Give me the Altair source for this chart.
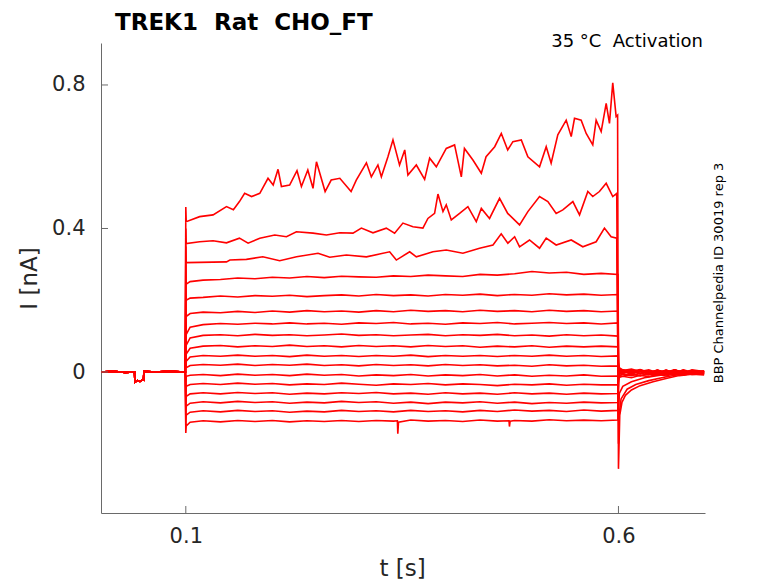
import altair as alt
import pandas as pd

# ---------------- data ----------------
X_TICKS = [0.1, 0.6]
Y_TICKS = [0.0, 0.4, 0.8]

# holding-level baseline before the step (shared by all sweeps)
PRE = [(0.002, 0.0), (0.015, 0.002), (0.03, -0.001), (0.0408, 0.0), (0.0412, -0.028),
       (0.044, -0.024), (0.047, -0.026), (0.0505, -0.021), (0.0512, -0.022),
       (0.0516, 0.002), (0.065, 0.0), (0.08, 0.002), (0.0995, 0.0)]

# capacitive spike at step onset (t = 0.1 s), one per sweep, top to bottom
ONSET_SPIKE = [0.46, 0.40, 0.35, 0.30, 0.25, 0.21, 0.17, 0.14, 0.11, 0.08, 0.05,
               -0.04, -0.07, -0.10, -0.12, -0.15, -0.17]

T1_STEP = [(0.1005, 0.419), (0.116, 0.433), (0.1315, 0.438), (0.147, 0.461), (0.155, 0.452),
           (0.162, 0.475), (0.168, 0.498), (0.176, 0.489), (0.1855, 0.498), (0.195, 0.540),
           (0.201, 0.521), (0.2066, 0.565), (0.2105, 0.517), (0.220, 0.521), (0.2285, 0.561),
           (0.2336, 0.517), (0.241, 0.563), (0.247, 0.512), (0.251, 0.586), (0.261, 0.503),
           (0.268, 0.535), (0.278, 0.540), (0.291, 0.503), (0.297, 0.535), (0.3087, 0.583),
           (0.3144, 0.544), (0.322, 0.577), (0.326, 0.544), (0.3336, 0.600), (0.3394, 0.647),
           (0.347, 0.577), (0.353, 0.619), (0.3567, 0.549), (0.3664, 0.577), (0.376, 0.537),
           (0.3818, 0.596), (0.3895, 0.572), (0.401, 0.623), (0.4106, 0.633), (0.4184, 0.544),
           (0.422, 0.623), (0.4318, 0.591), (0.4415, 0.554), (0.447, 0.600), (0.457, 0.628),
           (0.4646, 0.665), (0.472, 0.619), (0.478, 0.642), (0.4877, 0.647), (0.4953, 0.600),
           (0.5088, 0.572), (0.5165, 0.628), (0.5222, 0.582), (0.5299, 0.661), (0.5396, 0.702),
           (0.5454, 0.656), (0.5492, 0.707), (0.5569, 0.702), (0.5627, 0.665), (0.5703, 0.633),
           (0.5742, 0.702), (0.58, 0.670), (0.5858, 0.749), (0.5896, 0.693), (0.5934, 0.806),
           (0.5973, 0.712), (0.599, 0.716)]
T1_TAIL = [(0.6, -0.27), (0.6008, -0.19), (0.6015, -0.12), (0.604, -0.085), (0.608, -0.065),
           (0.615, -0.05), (0.625, -0.038), (0.64, -0.027), (0.655, -0.018), (0.67, -0.01),
           (0.685, -0.006), (0.699, -0.008)]

T2_STEP = [(0.1005, 0.358), (0.116, 0.363), (0.1315, 0.366), (0.147, 0.360), (0.162, 0.373),
           (0.172, 0.359), (0.1855, 0.373), (0.2028, 0.382), (0.2163, 0.377), (0.2278, 0.391),
           (0.247, 0.387), (0.2625, 0.382), (0.278, 0.388), (0.2932, 0.387), (0.3029, 0.401),
           (0.3163, 0.388), (0.3317, 0.401), (0.3413, 0.387), (0.3509, 0.415), (0.3625, 0.405),
           (0.374, 0.401), (0.3798, 0.428), (0.3875, 0.442), (0.3914, 0.496), (0.3972, 0.447),
           (0.401, 0.466), (0.4068, 0.424), (0.4164, 0.442), (0.426, 0.461), (0.4357, 0.419),
           (0.4415, 0.456), (0.451, 0.428), (0.4626, 0.484), (0.472, 0.442), (0.4857, 0.410),
           (0.4953, 0.447), (0.5088, 0.489), (0.5184, 0.475), (0.528, 0.442), (0.5357, 0.452),
           (0.5473, 0.475), (0.555, 0.438), (0.5646, 0.503), (0.5703, 0.489), (0.578, 0.503),
           (0.5858, 0.526), (0.5934, 0.489), (0.598, 0.498)]
T2_TAIL = [(0.6, -0.2), (0.6008, -0.12), (0.603, -0.075), (0.61, -0.048), (0.62, -0.035),
           (0.635, -0.024), (0.65, -0.016), (0.665, -0.009), (0.68, -0.004), (0.699, -0.003)]

T3_STEP = [(0.1005, 0.305), (0.147, 0.307), (0.151, 0.312), (0.170, 0.314), (0.189, 0.321),
           (0.2085, 0.310), (0.228, 0.321), (0.2528, 0.331), (0.2663, 0.320), (0.2856, 0.326),
           (0.3087, 0.321), (0.3356, 0.335), (0.3433, 0.312), (0.3587, 0.335), (0.3664, 0.321),
           (0.3856, 0.335), (0.401, 0.340), (0.4202, 0.331), (0.4395, 0.345), (0.455, 0.354),
           (0.4645, 0.385), (0.4722, 0.359), (0.48, 0.377), (0.4857, 0.349), (0.4972, 0.368),
           (0.5088, 0.345), (0.5165, 0.373), (0.528, 0.354), (0.5454, 0.368), (0.5588, 0.349),
           (0.5742, 0.363), (0.5838, 0.401), (0.5915, 0.377), (0.598, 0.373)]
T3_TAIL = [(0.6, -0.13), (0.601, -0.06), (0.605, -0.04), (0.615, -0.027), (0.63, -0.016),
           (0.65, -0.008), (0.67, -0.003), (0.699, -0.002)]

# sweeps 4..17 sampled on a common time grid
STEP_T = [0.1005, 0.105, 0.12, 0.14, 0.16, 0.18, 0.2, 0.22, 0.24, 0.26, 0.28, 0.3, 0.32, 0.34,
          0.36, 0.38, 0.4, 0.42, 0.44, 0.46, 0.48, 0.5, 0.52, 0.54, 0.56, 0.58, 0.5995]
LOWER_STEP = {
    4: [0.245, 0.252, 0.256, 0.258, 0.262, 0.26, 0.264, 0.262, 0.266, 0.263, 0.267, 0.265, 0.264,
        0.268, 0.266, 0.27, 0.268, 0.266, 0.272, 0.27, 0.274, 0.28, 0.276, 0.278, 0.272, 0.275, 0.272],
    5: [0.2, 0.206, 0.208, 0.212, 0.209, 0.213, 0.211, 0.214, 0.21, 0.213, 0.215, 0.212, 0.216,
        0.213, 0.215, 0.212, 0.216, 0.214, 0.217, 0.213, 0.216, 0.214, 0.218, 0.215, 0.217, 0.214, 0.216],
    6: [0.155, 0.163, 0.167, 0.165, 0.169, 0.166, 0.17, 0.167, 0.171, 0.168, 0.17, 0.167, 0.171,
        0.168, 0.172, 0.169, 0.171, 0.168, 0.172, 0.169, 0.171, 0.168, 0.172, 0.169, 0.171, 0.168, 0.17],
    7: [0.105, 0.125, 0.132, 0.135, 0.133, 0.136, 0.134, 0.137, 0.134, 0.136, 0.133, 0.137, 0.135,
        0.138, 0.134, 0.136, 0.133, 0.137, 0.135, 0.138, 0.134, 0.136, 0.138, 0.135, 0.137, 0.134, 0.137],
    8: [0.075, 0.095, 0.102, 0.104, 0.101, 0.105, 0.102, 0.104, 0.101, 0.103, 0.106, 0.102, 0.104,
        0.101, 0.103, 0.105, 0.101, 0.104, 0.102, 0.105, 0.101, 0.103, 0.1, 0.104, 0.101, 0.103, 0.1],
    9: [0.05, 0.066, 0.072, 0.074, 0.07, 0.073, 0.071, 0.075, 0.071, 0.073, 0.07, 0.074, 0.071,
        0.073, 0.07, 0.074, 0.071, 0.073, 0.069, 0.072, 0.07, 0.073, 0.069, 0.072, 0.07, 0.072, 0.07],
    10: [0.03, 0.042, 0.046, 0.044, 0.047, 0.044, 0.046, 0.043, 0.047, 0.044, 0.046, 0.043, 0.046,
         0.044, 0.047, 0.043, 0.046, 0.044, 0.046, 0.043, 0.046, 0.044, 0.047, 0.044, 0.046, 0.043, 0.045],
    11: [0.012, 0.018, 0.021, 0.019, 0.022, 0.018, 0.021, 0.019, 0.022, 0.018, 0.02, 0.017, 0.021,
         0.018, 0.02, 0.017, 0.021, 0.018, 0.02, 0.017, 0.019, 0.016, 0.02, 0.017, 0.019, 0.016, 0.017],
    12: [-0.012, -0.009, -0.007, -0.01, -0.006, -0.009, -0.007, -0.01, -0.006, -0.009, -0.007, -0.011,
         -0.008, -0.01, -0.007, -0.011, -0.008, -0.01, -0.007, -0.011, -0.008, -0.012, -0.009, -0.011,
         -0.008, -0.012, -0.011],
    13: [-0.04, -0.035, -0.032, -0.035, -0.031, -0.034, -0.032, -0.036, -0.033, -0.035, -0.031, -0.034,
         -0.037, -0.033, -0.035, -0.032, -0.036, -0.033, -0.035, -0.038, -0.034, -0.036, -0.033, -0.037,
         -0.034, -0.036, -0.036],
    14: [-0.068, -0.061, -0.058, -0.061, -0.057, -0.06, -0.058, -0.062, -0.059, -0.061, -0.058, -0.06,
         -0.057, -0.061, -0.059, -0.062, -0.058, -0.061, -0.059, -0.062, -0.058, -0.061, -0.059, -0.062,
         -0.059, -0.061, -0.06],
    15: [-0.095, -0.087, -0.083, -0.086, -0.082, -0.085, -0.083, -0.087, -0.084, -0.086, -0.082, -0.085,
         -0.083, -0.087, -0.084, -0.088, -0.084, -0.086, -0.083, -0.087, -0.084, -0.088, -0.085, -0.087,
         -0.084, -0.086, -0.085],
    16: [-0.12, -0.112, -0.108, -0.111, -0.107, -0.11, -0.108, -0.112, -0.109, -0.111, -0.107, -0.11,
         -0.108, -0.111, -0.107, -0.11, -0.108, -0.111, -0.107, -0.11, -0.106, -0.109, -0.107, -0.11,
         -0.106, -0.109, -0.107],
    17: [-0.15, -0.14, -0.136, -0.139, -0.135, -0.138, -0.135, -0.139, -0.136, -0.138, -0.135, -0.138,
         -0.135, -0.137, -0.134, -0.137, -0.135, -0.138, -0.134, -0.137, -0.135, -0.137, -0.133, -0.136,
         -0.134, -0.136, -0.134],
}
T17_EXTRA = [(0.3445, -0.136), (0.345, -0.172), (0.3458, -0.14),
             (0.4735, -0.136), (0.474, -0.152), (0.4748, -0.137)]

TAIL_T = [0.6, 0.6008, 0.605, 0.615, 0.625, 0.635, 0.645, 0.655, 0.665, 0.675, 0.685, 0.699]
LOWER_TAIL = {
    4: [0.03, 0.008, 0.004, -0.002, 0.005, -0.003, 0.004, -0.004, 0.006, -0.002, 0.004, 0.0],
    5: [0.025, 0.006, -0.003, 0.004, -0.004, 0.003, -0.005, 0.005, -0.002, 0.004, -0.004, 0.002],
    6: [0.02, 0.004, 0.006, -0.004, 0.002, -0.006, 0.004, -0.003, 0.005, -0.005, 0.003, -0.002],
    7: [0.015, -0.004, -0.006, -0.01, -0.004, -0.008, -0.002, -0.007, 0.001, -0.006, 0.0, -0.004],
    8: [0.01, -0.01, -0.012, -0.006, -0.011, -0.004, -0.009, -0.003, -0.008, -0.002, -0.007, -0.005],
    9: [0.005, -0.015, -0.012, -0.016, -0.009, -0.013, -0.006, -0.011, -0.004, -0.009, -0.003, -0.006],
    10: [0.0, -0.005, 0.002, -0.004, 0.004, -0.006, 0.002, -0.005, 0.005, -0.003, 0.003, -0.001],
    11: [0.02, -0.006, 0.003, -0.005, 0.006, -0.002, 0.005, -0.004, 0.004, -0.003, 0.006, 0.001],
    12: [-0.02, -0.012, -0.004, 0.003, -0.005, 0.004, -0.003, 0.005, -0.004, 0.003, -0.002, 0.002],
    13: [-0.025, -0.008, 0.005, -0.003, 0.006, -0.005, 0.003, -0.004, 0.006, -0.002, 0.004, -0.003],
    14: [-0.03, 0.006, -0.002, 0.005, -0.004, 0.002, -0.006, 0.004, -0.003, 0.005, -0.005, 0.003],
    15: [-0.03, 0.008, 0.002, -0.006, 0.003, -0.004, 0.005, -0.002, 0.004, -0.005, 0.002, -0.004],
    16: [-0.025, 0.01, 0.004, 0.008, 0.001, 0.006, -0.002, 0.004, -0.003, 0.006, -0.001, 0.003],
    17: [-0.02, 0.012, 0.006, 0.002, 0.007, -0.001, 0.005, 0.0, 0.006, -0.002, 0.004, 0.001],
}

TITLE = "TREK1\u00a0\u00a0Rat\u00a0\u00a0CHO_FT"
NOTE = "35 \u00b0C\u00a0\u00a0Activation"
SIDE = "BBP Channelpedia ID 30019 rep 3"

# ---------------- build table ----------------
rows = []
for k in range(1, 18):
    pts = list(PRE) + [(0.1, ONSET_SPIKE[k - 1])]
    if k == 1:
        pts += T1_STEP + T1_TAIL
    elif k == 2:
        pts += T2_STEP + T2_TAIL
    elif k == 3:
        pts += T3_STEP + T3_TAIL
    else:
        pts += list(zip(STEP_T, LOWER_STEP[k]))
        if k == 17:
            pts += T17_EXTRA
        pts += list(zip(TAIL_T, LOWER_TAIL[k]))
    for t, v in pts:
        rows.append({"sweep": k, "t": t, "i": v})
df = pd.DataFrame(rows)

W, H = 604, 470
FONT = "DejaVu Sans"
AX = "#262626"
DOM = "#6a6a6a"

xs = alt.Scale(domain=[0.002, 0.7], nice=False, zero=False)
ys = alt.Scale(domain=[-0.393, 0.917], nice=False, zero=False)

lines = alt.Chart(df).mark_line(color="#ff0000", strokeWidth=1.6, clip=True).encode(
    x=alt.X("t:Q", scale=xs, axis=alt.Axis(
        values=X_TICKS, format="~g", grid=False, ticks=True, tickSize=0,
        domainColor=DOM, domainWidth=1,
        labelFont=FONT, labelFontSize=21, labelColor=AX, labelPadding=12,
        title="t [s]", titleFont=FONT, titleFontSize=23, titleFontWeight="normal",
        titleColor=AX, titleX=301, titleY=62, titleAlign="center",
        titleBaseline="alphabetic")),
    y=alt.Y("i:Q", scale=ys, axis=alt.Axis(
        values=Y_TICKS, format="~g", grid=False, ticks=True, tickSize=0,
        domainColor=DOM, domainWidth=1,
        labelFont=FONT, labelFontSize=21, labelColor=AX, labelPadding=16,
        title="I [nA]", titleFont=FONT, titleFontSize=23, titleFontWeight="normal",
        titleColor=AX, titleAngle=270, titleX=-65, titleY=235, titleAlign="center",
        titleBaseline="alphabetic")),
    detail="sweep:N",
)

xt = alt.Chart(pd.DataFrame({"t": X_TICKS})).mark_rule(color=DOM, strokeWidth=1).encode(
    x=alt.X("t:Q", scale=xs), y=alt.value(H), y2=alt.value(H - 7))
yt = alt.Chart(pd.DataFrame({"i": Y_TICKS})).mark_rule(color=DOM, strokeWidth=1).encode(
    y=alt.Y("i:Q", scale=ys), x=alt.value(0), x2=alt.value(7))

title_t = alt.Chart(pd.DataFrame({"s": [TITLE]})).mark_text(
    align="left", baseline="alphabetic", font=FONT, fontSize=23, fontWeight="bold",
    color="black").encode(x=alt.value(14), y=alt.value(-13.5), text="s:N")
note_t = alt.Chart(pd.DataFrame({"s": [NOTE]})).mark_text(
    align="right", baseline="alphabetic", font=FONT, fontSize=18, color="black").encode(
    x=alt.value(602), y=alt.value(4), text="s:N")
side_t = alt.Chart(pd.DataFrame({"s": [SIDE]})).mark_text(
    align="center", baseline="alphabetic", font=FONT, fontSize=13, angle=270,
    color="black").encode(x=alt.value(622), y=alt.value(230), text="s:N")

chart = alt.layer(lines, xt, yt, title_t, note_t, side_t).properties(
    width=W, height=H,
    background="white",
    autosize=alt.AutoSizeParams(type="none"),
    padding={"left": 93, "top": 35, "right": 60, "bottom": 69},
).configure_view(stroke=None)

chart.save("out.html", embed_options={"renderer": "svg", "actions": False})
